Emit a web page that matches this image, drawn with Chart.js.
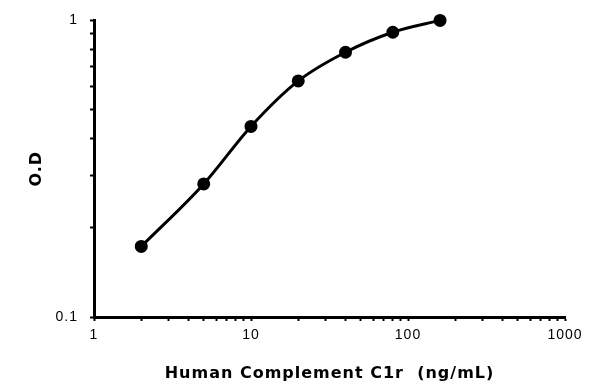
<!DOCTYPE html>
<html>
<head>
<meta charset="utf-8">
<script src="https://cdn.jsdelivr.net/npm/chart.js@4/dist/chart.umd.min.js"></script>
<style>
  body { margin: 0; background: #fff; }
  #wrap { width: 600px; height: 389px; }
</style>
</head>
<body>
<div id="wrap"><canvas id="myChart" width="600" height="389"></canvas></div>
<script>
  // standard curve data
  const concentrations = [2, 5, 10, 20, 40, 80, 160]
  const odValues = [0.173, 0.281, 0.439, 0.625, 0.781, 0.912, 1.0]
  const xTickValues = [1, 2, 3, 4, 5, 6, 7, 8, 9, 10, 20, 30, 40, 50, 60, 70, 80, 90, 100, 200, 300, 400, 500, 600, 700, 800, 900, 1000]
  const yTickValues = [0.1, 0.2, 0.3, 0.4, 0.5, 0.6, 0.7, 0.8, 0.9, 1]
  const xTitle = "Human Complement C1r  (ng/mL)"
  const yTitle = "O.D"

  const points = concentrations.map((c, i) => ({ x: c, y: odValues[i] }))

  // only label the powers of ten
  function decadeLabel(value) {
    const l = Math.log10(value)
    return Math.abs(l - Math.round(l)) < 1e-9 ? String(value) : ""
  }

  const tickFont = { family: "Arial, 'Liberation Sans', sans-serif", size: 14 }
  const titleFont = { family: "'DejaVu Sans', sans-serif", size: 16, weight: "bold" }

  // the reference text is drawn a little wider than plain Arial
  const spacing = {
    id: "spacing",
    beforeDraw(chart) { chart.ctx.letterSpacing = "1px" }
  }

  const ctx = document.getElementById("myChart").getContext("2d")
  new Chart(ctx, {
    type: "line",
    plugins: [spacing],
    data: {
      datasets: [{
        data: points,
        borderColor: "#000",
        backgroundColor: "#000",
        borderWidth: 3,
        pointRadius: 5,
        pointHoverRadius: 5,
        cubicInterpolationMode: "monotone",
        clip: false
      }]
    },
    options: {
      responsive: false,
      animation: false,
      layout: { padding: { top: 20, right: 35, left: 0, bottom: 0 } },
      plugins: { legend: { display: false }, tooltip: { enabled: false } },
      scales: {
        x: {
          type: "logarithmic",
          min: 1,
          max: 1000,
          afterBuildTicks: scale => { scale.ticks = xTickValues.map(v => ({ value: v })) },
          afterFit: scale => { scale.height = 72 },
          ticks: { autoSkip: false, maxRotation: 0, color: "#000", font: tickFont, padding: 6, callback: decadeLabel },
          grid: { drawOnChartArea: false, tickLength: 4, tickWidth: 2, tickColor: "#000" },
          border: { color: "#000", width: 3 },
          title: { display: true, text: xTitle, color: "#000", font: titleFont, padding: { top: 0, bottom: 6 } }
        },
        y: {
          type: "logarithmic",
          min: 0.1,
          max: 1,
          afterBuildTicks: scale => { scale.ticks = yTickValues.map(v => ({ value: v })) },
          afterFit: scale => { scale.width = 94 },
          ticks: { autoSkip: false, color: "#000", font: tickFont, padding: 12, callback: decadeLabel },
          grid: { drawOnChartArea: false, tickLength: 4, tickWidth: 2, tickColor: "#000" },
          border: { color: "#000", width: 3 },
          title: { display: true, text: yTitle, color: "#000", font: titleFont, padding: { top: 27, bottom: 0 } }
        }
      }
    }
  })
</script>
</body>
</html>
